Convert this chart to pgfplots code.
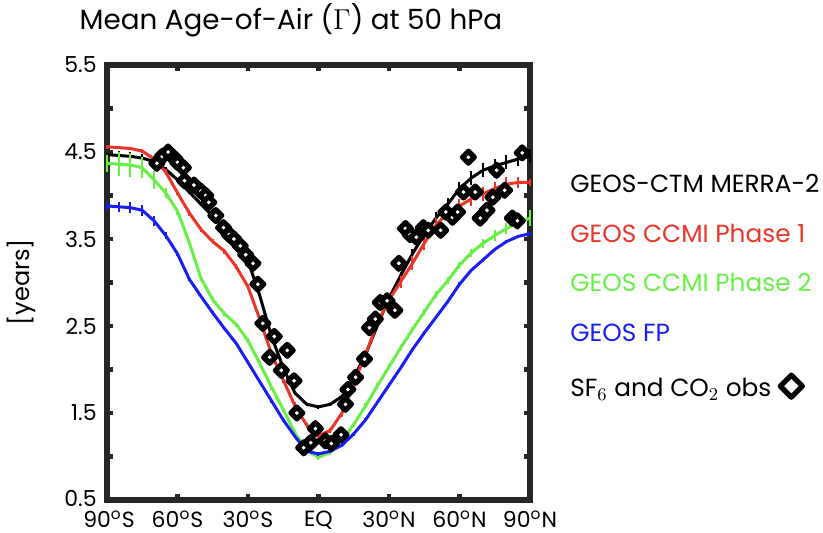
\documentclass[border=0pt]{standalone}
\usepackage{pgfplots}
\pgfplotsset{compat=1.18}
\usepackage{pgfplotstable}
\usepackage{fontspec}
\setmainfont{Poppins}

\definecolor{cRed}{RGB}{236,52,40}
\definecolor{cGreen}{RGB}{102,240,70}
\definecolor{cBlue}{RGB}{25,30,245}
\definecolor{frm}{RGB}{38,38,38}

\newcommand{\dg}{\smash{\textsuperscript{o}}}

% zonal mean age at 50 hPa: lat, years, spread
\pgfplotstableread{
x y e
-90 4.47 0.03
-85 4.46 0.05
-80 4.45 0.05
-75 4.43 0.05
-70 4.39 0.05
-65 4.30 0.03
-60 4.18 0.02
-55 4.04 0.02
-50 3.90 0.02
-45 3.76 0.02
-40 3.62 0.02
-35 3.46 0.02
-30 3.25 0.02
-25 2.85 0.02
-20 2.38 0.02
-15 2.02 0.02
-10 1.73 0.02
-5 1.60 0.02
0 1.57 0.02
5 1.60 0.02
10 1.69 0.02
15 1.91 0.02
20 2.17 0.02
25 2.50 0.02
30 2.82 0.03
35 3.08 0.04
40 3.33 0.05
45 3.55 0.06
50 3.74 0.07
55 3.90 0.07
60 4.08 0.08
65 4.20 0.08
70 4.29 0.08
75 4.34 0.08
80 4.38 0.08
85 4.42 0.08
90 4.45 0.08
}\merra

\pgfplotstableread{
x y e
-90 4.56 0.02
-85 4.55 0.02
-80 4.54 0.02
-75 4.51 0.02
-70 4.42 0.03
-65 4.27 0.03
-60 4.03 0.03
-55 3.80 0.03
-50 3.61 0.03
-45 3.47 0.03
-40 3.36 0.03
-35 3.18 0.03
-30 2.95 0.03
-25 2.58 0.03
-20 2.18 0.03
-15 1.88 0.03
-10 1.58 0.05
-5 1.36 0.03
0 1.24 0.05
5 1.30 0.03
10 1.50 0.05
15 1.84 0.05
20 2.17 0.05
25 2.53 0.05
30 2.80 0.06
35 3.01 0.07
40 3.22 0.08
45 3.45 0.08
50 3.66 0.08
55 3.80 0.08
60 3.88 0.08
65 3.96 0.08
70 4.02 0.08
75 4.08 0.08
80 4.13 0.08
85 4.15 0.06
90 4.15 0.04
}\ccmione

\pgfplotstableread{
x y e
-90 4.37 0.10
-85 4.36 0.14
-80 4.35 0.14
-75 4.32 0.12
-70 4.18 0.10
-65 4.03 0.06
-60 3.82 0.04
-55 3.46 0.03
-50 3.05 0.03
-45 2.80 0.03
-40 2.64 0.03
-35 2.52 0.03
-30 2.33 0.03
-25 2.07 0.03
-20 1.80 0.03
-15 1.54 0.03
-10 1.27 0.03
-5 1.07 0.03
0 0.99 0.03
5 1.05 0.03
10 1.18 0.03
15 1.37 0.03
20 1.58 0.03
25 1.81 0.03
30 2.03 0.03
35 2.25 0.03
40 2.46 0.03
45 2.66 0.03
50 2.86 0.04
55 3.02 0.04
60 3.20 0.04
65 3.34 0.05
70 3.45 0.05
75 3.54 0.06
80 3.62 0.06
85 3.69 0.09
90 3.74 0.09
}\ccmitwo

\pgfplotstableread{
x y e
-90 3.88 0.05
-85 3.87 0.06
-80 3.86 0.06
-75 3.83 0.06
-70 3.71 0.06
-65 3.54 0.04
-60 3.33 0.03
-55 3.04 0.02
-50 2.84 0.02
-45 2.65 0.02
-40 2.47 0.02
-35 2.30 0.02
-30 2.08 0.02
-25 1.86 0.02
-20 1.64 0.02
-15 1.42 0.02
-10 1.23 0.02
-5 1.06 0.02
0 1.03 0.02
5 1.06 0.02
10 1.13 0.02
15 1.26 0.02
20 1.42 0.02
25 1.62 0.02
30 1.82 0.02
35 2.02 0.02
40 2.23 0.02
45 2.42 0.02
50 2.60 0.02
55 2.78 0.02
60 2.98 0.02
65 3.14 0.02
70 3.26 0.02
75 3.38 0.02
80 3.47 0.02
85 3.53 0.02
90 3.56 0.02
}\geosfp

% SF6 and CO2 observations
\pgfplotstableread{
x y
-68.8 4.37
-66.5 4.45
-64.0 4.50
-61.0 4.42
-60.0 4.38
-57.5 4.32
-57.0 4.17
-53.0 4.12
-50.0 4.05
-48.0 4.00
-46.7 3.92
-43.7 3.77
-40.4 3.63
-38.0 3.55
-36.0 3.50
-33.3 3.42
-31.0 3.32
-27.9 3.22
-25.8 2.98
-23.7 2.53
-20.8 2.14
-18.8 2.38
-15.8 1.99
-13.3 2.22
-10.4 1.87
-9.2 1.50
-6.3 1.10
-3.3 1.16
-1.3 1.32
2.9 1.18
5.5 1.15
9.6 1.25
11.5 1.60
12.5 1.77
15.8 1.91
19.6 2.12
21.7 2.48
24.2 2.58
26.3 2.77
29.2 2.79
32.5 2.68
34.2 3.22
37.0 3.62
39.0 3.55
41.7 3.52
44.6 3.63
46.7 3.60
52.0 3.60
54.2 3.81
57.0 3.75
59.2 3.81
61.7 4.04
63.8 4.44
66.7 4.04
68.8 3.74
71.7 3.83
74.2 3.98
75.8 4.29
79.2 4.06
82.5 3.74
84.6 3.71
86.7 4.49
}\obs

\begin{document}
\begin{tikzpicture}
\useasboundingbox (-53.5pt,-16.5pt) rectangle (358pt,250pt);
\begin{axis}[
  scale only axis, width=211.5pt, height=217.5pt,
  xmin=-90, xmax=90, ymin=0.5, ymax=5.5,
  axis line style={line width=3.2pt, frm},
  tick align=inside, major tick length=3pt,
  tick style={line width=2.2pt, frm},
  xtick={-90,-60,...,90},
  xticklabels={\hspace{2pt}90\dg S,60\dg S,30\dg S,EQ,30\dg N,60\dg N,90\dg N},
  ytick={0.5,1,...,5.5},
  yticklabels={\raisebox{2pt}{0.5},{},1.5,{},2.5,{},3.5,{},4.5,{},5.5},
  ticklabel style={font=\fontsize{11}{13}\selectfont, text=black, inner sep=0pt},
  xticklabel style={yshift=-5.5pt},
  yticklabel style={xshift=-5pt},
  title={Mean Age-of-Air ($\Gamma$) at 50 hPa},
  title style={at={(axis description cs:0.435,1.055)}, anchor=base,
    font=\fontsize{13.9}{16}\selectfont},
  ylabel={[years]},
  ylabel style={at={(axis description cs:-0.202,0.501)}, anchor=center,
    font=\fontsize{12}{14}\selectfont},
  clip=false,
  legend style={draw=none, fill=none, at={(axis description cs:1.085,0.76)},
    anchor=north west, font=\fontsize{12.4}{14}\selectfont, row sep=10.3pt,
    inner sep=0pt, column sep=0pt},
  legend cell align=left, legend plot pos=left,
  legend image code/.code={},
]
\addplot[black, line width=1.5pt,
  error bars/.cd, y dir=both, y explicit, error mark=none,
  error bar style={black, line width=1pt}]
  table[x=x, y=y, y error=e] {\merra};
\addlegendentry{GEOS-CTM MERRA-2}
\addplot[cRed, line width=1.5pt,
  error bars/.cd, y dir=both, y explicit, error mark=none,
  error bar style={cRed, line width=1pt}]
  table[x=x, y=y, y error=e] {\ccmione};
\addlegendentry{\textcolor{cRed}{GEOS CCMI Phase 1}}
\addplot[cGreen, line width=1.5pt,
  error bars/.cd, y dir=both, y explicit, error mark=none,
  error bar style={cGreen, line width=1pt}]
  table[x=x, y=y, y error=e] {\ccmitwo};
\addlegendentry{\textcolor{cGreen}{GEOS CCMI Phase 2}}
\addplot[cBlue, line width=1.5pt,
  error bars/.cd, y dir=both, y explicit, error mark=none,
  error bar style={cBlue, line width=1pt}]
  table[x=x, y=y, y error=e] {\geosfp};
\addlegendentry{\textcolor{cBlue}{GEOS FP}}
\addplot[only marks, mark=square*, mark size=2.1pt,
  mark options={draw=black, fill=white, line width=2.6pt, line join=round, rotate=45},
  legend image code/.code={
    \path[overlay] plot[only marks, mark=square*, mark size=3.9pt,
      mark options={draw=black, fill=white, line width=2.6pt, line join=round, rotate=45}]
      coordinates {(112.5pt,0pt)};}]
  table[x=x, y=y] {\obs};
\addlegendentry{\rule{0pt}{12pt}SF$_6$ and CO$_2$ obs}
\end{axis}
\end{tikzpicture}
\end{document}
